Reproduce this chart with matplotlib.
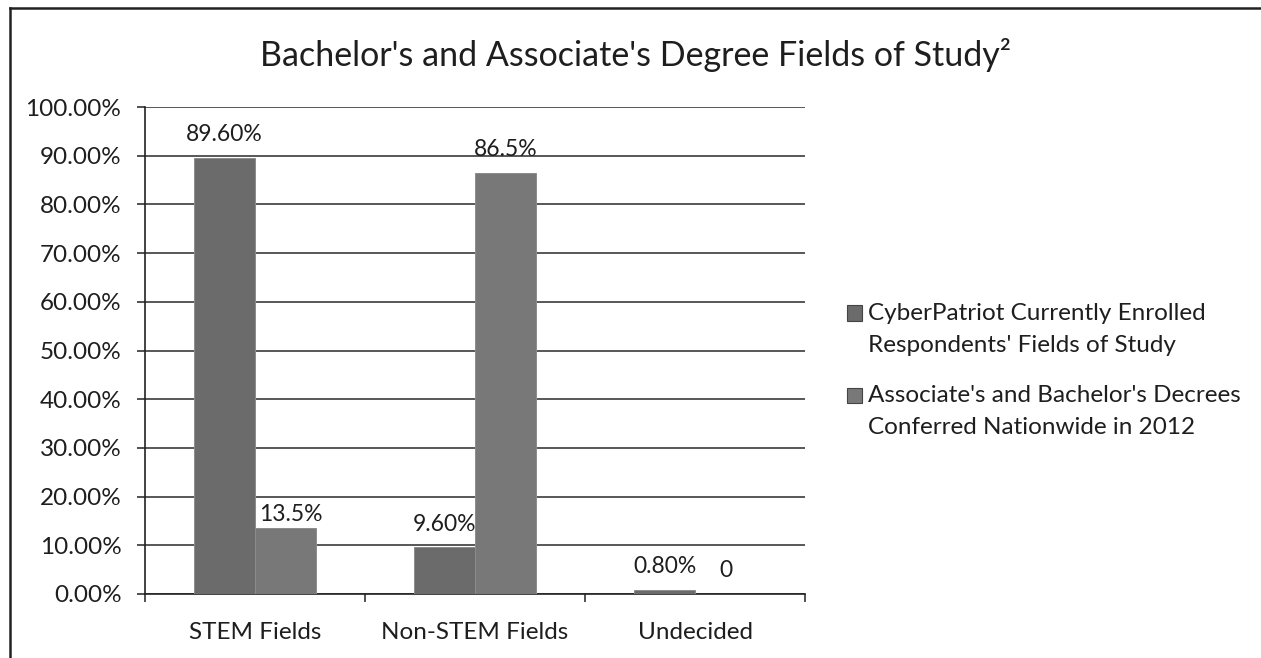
import matplotlib
matplotlib.use("Agg")
import matplotlib.pyplot as plt
from matplotlib.ticker import PercentFormatter
from matplotlib.lines import Line2D
from matplotlib.patches import Patch, Rectangle
from matplotlib.legend_handler import HandlerPatch
import numpy as np

# ---- data ----
categories = ["STEM Fields", "Non-STEM Fields", "Undecided"]
cyberpatriot = [89.6, 9.6, 0.8]
nationwide = [13.5, 86.5, 0.0]
series_names = [
    "CyberPatriot Currently Enrolled\nRespondents' Fields of Study",
    "Associate's and Bachelor's Decrees\nConferred Nationwide in 2012",
]
cyber_labels = ["89.60%", "9.60%", "0.80%"]
nation_labels = ["13.5%", "86.5%", "0"]
title = "Bachelor's and Associate's Degree Fields of Study²"
yticks = list(range(0, 101, 10))

# ---- style ----
plt.rcParams['font.family'] = ['Lato', 'DejaVu Sans']
TXT = '#1e1e1e'
W, H = 1261, 658
FS = 17.5
fig = plt.figure(figsize=(W / 100, H / 100), dpi=100)
fig.patch.set_facecolor('white')
ax = fig.add_axes([145 / W, (H - 594) / H, 660 / W, 487 / H])

x = np.arange(len(categories))
w = 0.277
b1 = ax.bar(x - w / 2, cyberpatriot, w, color='#6b6b6b', edgecolor='#8c8c8c', linewidth=0.7, zorder=3)
b2 = ax.bar(x + w / 2, nationwide, w, color='#787878', edgecolor='#8c8c8c', linewidth=0.7, zorder=3)

ax.set_xlim(-0.5, 2.5)
ax.set_ylim(0, 100)
ax.set_yticks(yticks)
ax.yaxis.set_major_formatter(PercentFormatter(decimals=2))
ax.grid(axis='y', color='#2a2a2a', linewidth=1.1, zorder=0)
ax.set_axisbelow(True)
for s in ['top', 'right']:
    ax.spines[s].set_visible(False)
for s in ['left', 'bottom']:
    ax.spines[s].set_color('#222222')
    ax.spines[s].set_linewidth(1.2)

ax.set_xticks(x, categories)
ax.set_xticks([-0.5, 0.5, 1.5, 2.5], minor=True)
ax.tick_params(axis='x', which='major', length=0, pad=20, labelsize=FS, labelcolor=TXT)
ax.tick_params(axis='x', which='minor', length=6, width=1.1, color='#222222', direction='out')
ax.tick_params(axis='y', length=6, width=1.1, color='#222222', pad=11, labelsize=FS, labelcolor=TXT)

# data labels
nudges1 = [(0, 12), (0, 12), (0, 12)]
nudges2 = [(4, 5), (0, 12), (0, 12)]
for rect, lab, (dx, dy) in zip(b1, cyber_labels, nudges1):
    ax.annotate(lab, (rect.get_x() + rect.get_width() / 2, rect.get_height()),
                xytext=(dx, dy), textcoords='offset points', ha='center', va='baseline',
                fontsize=16.5, color=TXT, zorder=5)
for rect, lab, (dx, dy) in zip(b2, nation_labels, nudges2):
    ax.annotate(lab, (rect.get_x() + rect.get_width() / 2, rect.get_height()),
                xytext=(dx, dy), textcoords='offset points', ha='center', va='baseline',
                fontsize=16.5, color=TXT, zorder=5)

# legend (square aligned with the first text line)
LS = 1.62
shift = 11.5  # points: half of the line pitch


def first_line_patch(legend, orig_handle, xdescent, ydescent, width, height, fontsize):
    return Rectangle((-xdescent, -ydescent + shift), width, height)


handles = [Patch(facecolor='#6b6b6b', edgecolor='#444444', linewidth=0.8),
           Patch(facecolor='#787878', edgecolor='#444444', linewidth=0.8)]
leg = ax.legend(handles, series_names, loc='upper left',
                bbox_to_anchor=(847 / W, 1 - 303 / H), bbox_transform=fig.transFigure,
                frameon=False, fontsize=FS, handlelength=0.62, handleheight=0.62,
                handletextpad=0.25, labelspacing=1.22, borderaxespad=0, borderpad=0,
                handler_map={Patch: HandlerPatch(patch_func=first_line_patch)})
for t in leg.get_texts():
    t.set_linespacing(LS)
    t.set_color(TXT)

# title
fig.text(636 / W, 1 - 55 / H, title, ha='center', va='center', fontsize=24.5, color=TXT)

# chart border (left and top)
fig.add_artist(Line2D([10 / W, 10 / W], [0, 1 - 8 / H], transform=fig.transFigure, color='#222222', lw=1.8))
fig.add_artist(Line2D([10 / W, 1], [1 - 8 / H, 1 - 8 / H], transform=fig.transFigure, color='#222222', lw=1.8))

fig.savefig('out.png', dpi=100, facecolor='white')
